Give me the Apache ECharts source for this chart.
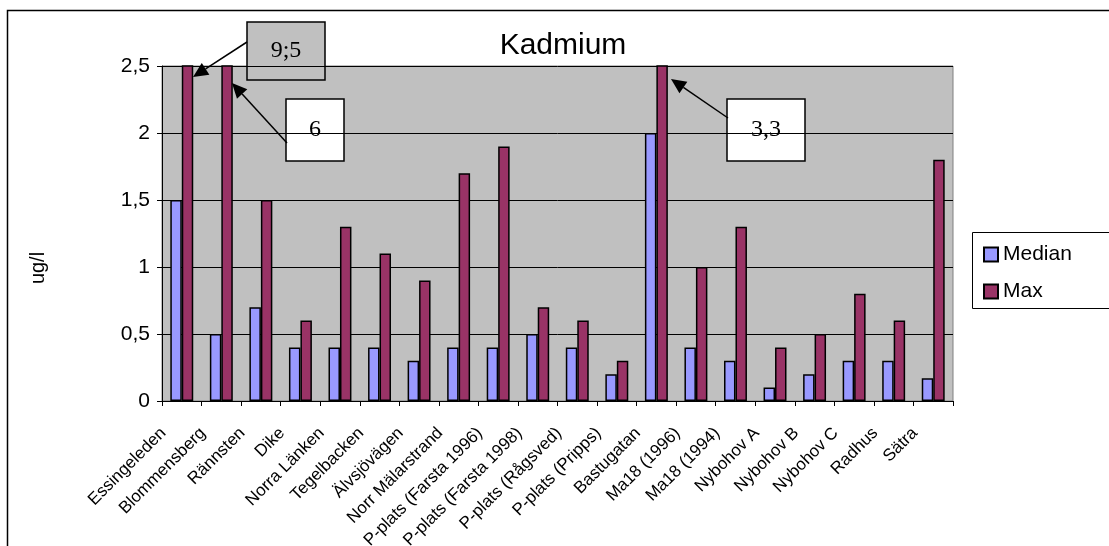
<!DOCTYPE html>
<html>
<head>
<meta charset="utf-8">
<script src="https://cdn.jsdelivr.net/npm/echarts@6/dist/echarts.min.js"></script>
<style>
html, body { margin: 0; padding: 0; background: #fff; }
#chart { width: 1109px; height: 546px; }
</style>
</head>
<body>
<div id="chart"></div>
<script>
// sampling sites
var sites = ['Essingeleden', 'Blommensberg', 'Rännsten', 'Dike', 'Norra Länken', 'Tegelbacken',
    'Älvsjövägen', 'Norr Mälarstrand', 'P-plats (Farsta 1996)', 'P-plats (Farsta 1998)',
    'P-plats (Rågsved)', 'P-plats (Pripps)', 'Bastugatan', 'Ma18 (1996)', 'Ma18 (1994)',
    'Nybohov A', 'Nybohov B', 'Nybohov C', 'Radhus', 'Sätra'];
var median = [1.5, 0.5, 0.7, 0.4, 0.4, 0.4, 0.3, 0.4, 0.4, 0.5, 0.4, 0.2, 2.0, 0.4, 0.3, 0.1, 0.2, 0.3, 0.3, 0.17];
var max = [9.5, 6, 1.5, 0.6, 1.3, 1.1, 0.9, 1.7, 1.9, 0.7, 0.6, 0.3, 3.3, 1.0, 1.3, 0.4, 0.5, 0.8, 0.6, 1.8];
var yTicks = [0, 0.5, 1, 1.5, 2, 2.5];

var sans = 'Liberation Sans';
var serif = 'Liberation Serif';

// arrow = line + filled head
function arrow(x1, y1, x2, y2) {
    var dx = x2 - x1, dy = y2 - y1;
    var len = Math.sqrt(dx * dx + dy * dy);
    var ux = dx / len, uy = dy / len;
    var hl = 15, hw = 7;
    var bx = x2 - ux * hl, by = y2 - uy * hl;
    return [
        { type: 'line', z: 100, shape: { x1: x1, y1: y1, x2: bx, y2: by }, style: { stroke: '#000', lineWidth: 1.5 } },
        { type: 'polygon', z: 100, shape: { points: [[x2, y2], [bx - uy * hw, by + ux * hw], [bx + uy * hw, by - ux * hw]] }, style: { fill: '#000' } }
    ];
}

function box(x, y, w, h, fill, label) {
    return {
        type: 'group', z: 100, children: [
            { type: 'rect', shape: { x: x, y: y, width: w, height: h }, style: { fill: fill, stroke: '#000', lineWidth: 1.5 } },
            { type: 'text', x: x + w / 2, y: y + h / 2, style: { text: label, font: '24px "' + serif + '"', fill: '#000', align: 'center', verticalAlign: 'middle' } }
        ]
    };
}

var chart = echarts.init(document.getElementById('chart'));

var graphics = [
    { type: 'rect', z: -1, shape: { x: 7.5, y: 10.5, width: 1200, height: 600 }, style: { fill: 'none', stroke: '#000', lineWidth: 1.5 } },
    { type: 'rect', z: 1, shape: { x: 972.5, y: 232.5, width: 200, height: 76 }, style: { fill: '#fff', stroke: '#000', lineWidth: 1 } },
    { type: 'text', x: 38, y: 268, rotation: Math.PI / 2, style: { text: 'ug/l', font: '20px "' + sans + '"', fill: '#000', align: 'center', verticalAlign: 'middle' } },
    box(247, 22, 78, 58, '#C0C0C0', '9;5'),
    box(286, 99, 58, 62, '#fff', '6'),
    box(727, 99, 78, 62, '#fff', '3,3')
].concat(arrow(247, 42, 193, 77))
 .concat(arrow(287, 143, 232, 83))
 .concat(arrow(728, 118, 671, 79));

chart.setOption({
    animation: false,
    title: {
        text: 'Kadmium',
        left: 558,
        top: 26,
        textAlign: 'center',
        textStyle: { fontFamily: sans, fontSize: 30, fontWeight: 'normal', color: '#000' }
    },
    legend: {
        orient: 'vertical',
        left: 978,
        top: 239,
        icon: 'rect',
        itemWidth: 14,
        itemHeight: 14,
        itemGap: 16,
        z: 10,
        textStyle: { fontFamily: sans, fontSize: 21, color: '#000' },
        data: ['Median', 'Max']
    },
    grid: {
        left: 162,
        right: 156,
        top: 66,
        bottom: 145,
        containLabel: false,
        outerBoundsMode: 'none',
        show: true,
        backgroundColor: '#C0C0C0',
        borderColor: '#808080',
        borderWidth: 1
    },
    xAxis: {
        type: 'category',
        data: sites,
        axisLine: { lineStyle: { color: '#000', width: 1 } },
        axisTick: { show: true, length: 5, lineStyle: { color: '#000' } },
        axisLabel: {
            rotate: 45,
            interval: 0,
            margin: 11,
            padding: [0, 26, 0, 0],
            fontFamily: sans,
            fontSize: 17,
            color: '#000'
        }
    },
    yAxis: {
        type: 'value',
        min: 0,
        max: 2.5,
        interval: 0.5,
        axisLine: { show: true, lineStyle: { color: '#000', width: 1 } },
        axisTick: { show: true, length: 5, lineStyle: { color: '#000' } },
        axisLabel: {
            fontFamily: sans,
            fontSize: 21,
            color: '#000',
            margin: 12,
            formatter: function (v) { return String(v).replace('.', ','); }
        },
        splitLine: { lineStyle: { color: '#000', width: 1 } }
    },
    series: [
        {
            name: 'Median',
            type: 'bar',
            data: median,
            barGap: '0%',
            barCategoryGap: '42%',
            itemStyle: { color: '#9999FF', borderColor: '#000', borderWidth: 1.5 }
        },
        {
            name: 'Max',
            type: 'bar',
            data: max,
            clip: true,
            itemStyle: { color: '#993366', borderColor: '#000', borderWidth: 1.5 }
        }
    ],
    graphic: graphics
});
</script>
</body>
</html>
